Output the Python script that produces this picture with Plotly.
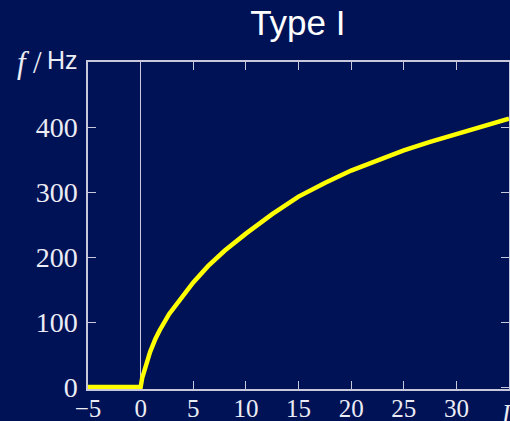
import plotly.graph_objects as go

# data
current = [-5, 0, 0.15, 0.4, 0.9, 1.4, 1.8, 2.7, 3.7, 5, 6.4, 8, 10, 12.5, 15, 17.5, 20, 22.5, 25, 27.5, 30, 32.5, 35]
rate = [0, 0, 14, 27, 54, 74, 87, 112, 133, 161, 186, 210, 236, 266, 293, 314, 333, 349, 364, 377, 389, 401, 413]

x_ticks = [-5, 0, 5, 10, 15, 20, 25, 30]
x_ticktext = ["\u22125", "0", "5", "10", "15", "20", "25", "30"]
y_ticks = [0, 100, 200, 300, 400]

BG = "#001256"
AX = "#c8c8dc"
TXT = "#ececf4"
SERIF = "Liberation Serif, Times New Roman, serif"
SANS = "Liberation Sans, Arial, sans-serif"

fig = go.Figure()
fig.add_trace(go.Scatter(x=current, y=rate, mode="lines",
                         line=dict(color="#ffff00", width=4.5),
                         hoverinfo="skip", showlegend=False))

fig.update_layout(
    width=510, height=421,
    margin=dict(l=88, r=1, t=62, b=32, autoexpand=False),
    paper_bgcolor=BG, plot_bgcolor=BG,
    title=dict(text="Type I", x=0.584, xanchor="center", y=0.975, yanchor="top",
               font=dict(family=SANS, size=35, color="#ffffff")),
    xaxis=dict(range=[-5, 35], tickvals=x_ticks, ticktext=x_ticktext, automargin=False,
               showgrid=False, zeroline=True, zerolinecolor=AX, zerolinewidth=1.2,
               showline=True, linecolor=AX, linewidth=1.5, mirror="ticks",
               ticks="inside", ticklen=8, tickcolor=AX, tickwidth=1.2,
               layer="below traces", ticklabelstandoff=-4,
               tickfont=dict(family=SERIF, size=25, color=TXT)),
    yaxis=dict(range=[-3, 500], tickvals=y_ticks, automargin=False,
               showgrid=False, zeroline=False,
               showline=True, linecolor=AX, linewidth=1.5, mirror="ticks",
               ticks="inside", ticklen=8, tickcolor=AX, tickwidth=1.2,
               layer="below traces", ticklabelstandoff=3,
               tickfont=dict(family=SERIF, size=28, color=TXT)),
    annotations=[
        dict(text="<i>f</i>", xref="paper", yref="paper", x=-0.154, y=1.0,
             xanchor="center", yanchor="middle", showarrow=False,
             font=dict(family=SERIF, size=31, color=TXT)),
        dict(text="/", xref="paper", yref="paper", x=-0.119, y=1.0,
             xanchor="center", yanchor="middle", showarrow=False,
             font=dict(family=SERIF, size=31, color=TXT)),
        dict(text="Hz", xref="paper", yref="paper", x=-0.0606, y=1.005,
             xanchor="center", yanchor="middle", showarrow=False,
             font=dict(family=SANS, size=25, color=TXT)),
        dict(text="<i>I</i>", xref="paper", yref="paper", x=0.976, y=-0.074,
             xanchor="left", yanchor="middle", showarrow=False,
             font=dict(family=SERIF, size=25, color=TXT)),
    ],
)

fig.write_html("out.html", config={"displayModeBar": False},
               post_script="document.body.style.margin='0';document.body.style.overflow='hidden';")
